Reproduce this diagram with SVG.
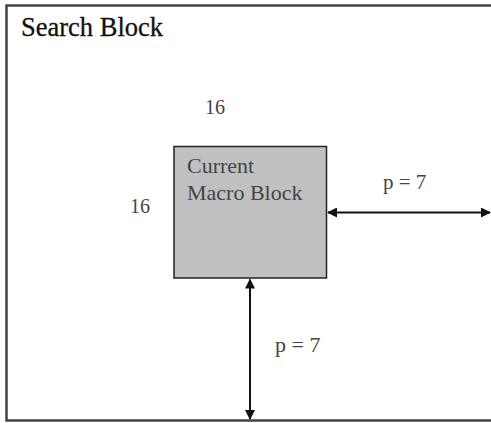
<svg xmlns="http://www.w3.org/2000/svg" width="491" height="423" viewBox="0 0 491 423">
<style>
.t{font-family:"Liberation Serif","Times New Roman",serif;fill:#111}
.g{font-family:"Liberation Serif","Times New Roman",serif;fill:#444}
.ln{stroke:#111;stroke-width:2;fill:none}
</style>
<defs>
<marker id="ah" viewBox="0 0 10 10" refX="9" refY="5" markerWidth="5" markerHeight="5" orient="auto-start-reverse" markerUnits="strokeWidth">
<path d="M0,0 L10,5 L0,10 Z" fill="#111"/>
</marker>
</defs>
<rect width="491" height="423" fill="#fff"/>
<g id="search-block">
<path d="M491,5.5 H6.5 V420.5 H491" stroke="#444" stroke-width="2.5" fill="none"/>
<text class="t" x="21" y="36" font-size="26.5" stroke="#111" stroke-width="0.3">Search Block</text>
</g>
<g id="macro-block">
<rect x="174" y="146.5" width="152.5" height="131.5" fill="#c0c0c0" stroke="#222" stroke-width="1.5"/>
<text class="g" x="187" y="173" font-size="22">Current</text>
<text class="g" x="187" y="200" font-size="22">Macro Block</text>
</g>
<g id="labels">
<text class="g" x="205" y="114" font-size="20">16</text>
<text class="g" x="130" y="213" font-size="20">16</text>
<text class="g" x="383" y="189" font-size="21">p = 7</text>
<text class="g" x="275" y="352" font-size="22">p = 7</text>
</g>
<g id="connectors">
<line class="ln" x1="328" y1="212.5" x2="490" y2="212.5" marker-start="url(#ah)" marker-end="url(#ah)"/>
<line class="ln" x1="250" y1="279.5" x2="250" y2="419" marker-start="url(#ah)" marker-end="url(#ah)"/>
</g>
</svg>
